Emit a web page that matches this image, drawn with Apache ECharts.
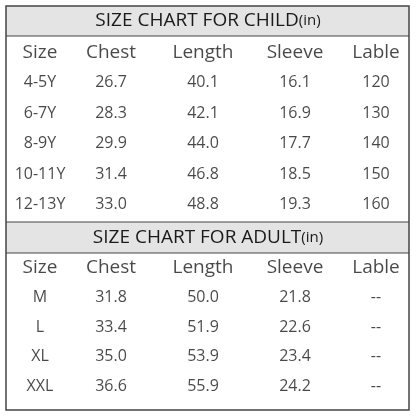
<!DOCTYPE html>
<html><head><meta charset="utf-8">
<script src="https://cdn.jsdelivr.net/npm/echarts@6/dist/echarts.min.js"></script>
<style>html,body{margin:0;padding:0;background:#fff}#c{width:416px;height:416px}</style>
</head><body><div id="c"></div>
<script>
const columns = ['Size','Chest','Length','Sleeve','Lable'];
const childTitle = 'SIZE CHART FOR CHILD';
const adultTitle = 'SIZE CHART FOR ADULT';
const childSizes = ['4-5Y','6-7Y','8-9Y','10-11Y','12-13Y'];
const childChest = ['26.7','28.3','29.9','31.4','33.0'];
const childLength = ['40.1','42.1','44.0','46.8','48.8'];
const childSleeve = ['16.1','16.9','17.7','18.5','19.3'];
const childLable = ['120','130','140','150','160'];
const adultSizes = ['M','L','XL','XXL'];
const adultChest = ['31.8','33.4','35.0','36.6'];
const adultLength = ['50.0','51.9','53.9','55.9'];
const adultSleeve = ['21.8','22.6','23.4','24.2'];
const adultLable = ['--','--','--','--'];

const colX = [40,111,203,295,376]; // layout only
const FONT = '"Open Sans", sans-serif';

function cells(sizes, cols, gridIndex){
  const rows = ['h'].concat(sizes);
  const data = [];
  columns.forEach((c,i)=>data.push({value:[colX[i],'h'],name:c,label:{fontSize:19}}));
  sizes.forEach((s,r)=>{
    cols.forEach((arr,i)=>data.push({value:[colX[i],s],name:arr[r]}));
  });
  return {rows, series:{type:'scatter',xAxisIndex:gridIndex,yAxisIndex:gridIndex,symbolSize:0,silent:true,
    data, label:{show:true,position:'inside',formatter:p=>p.name,color:'#1a1a1a',fontFamily:FONT,fontSize:16}}};
}
const a = cells(childSizes,[childSizes,childChest,childLength,childSleeve,childLable],0);
const b = cells(adultSizes,[adultSizes,adultChest,adultLength,adultSleeve,adultLable],1);

const chart = echarts.init(document.getElementById('c'),null,{renderer:'canvas'});
const xa = i=>({type:'value',gridIndex:i,min:6,max:409,show:false});
const ya = (i,rows)=>({type:'category',gridIndex:i,data:rows,inverse:true,show:false});
const rich = {a:{fontFamily:FONT,fontSize:19,fill:'#1a1a1a'},b:{fontFamily:FONT,fontSize:15,fill:'#1a1a1a'}};
chart.setOption({
  animation:false,
  grid:[{left:6,right:7,top:37,height:183},{left:6,right:7,top:253,height:148}],
  xAxis:[xa(0),xa(1)],
  yAxis:[ya(0,a.rows),ya(1,b.rows)],
  series:[a.series,b.series],
  graphic:[
    {type:'rect',shape:{x:6,y:6,width:403,height:30},style:{fill:'#e4e4e4'},z:1},
    {type:'rect',shape:{x:6,y:222,width:403,height:31},style:{fill:'#e4e4e4'},z:1},
    {type:'line',shape:{x1:6,y1:36,x2:409,y2:36},style:{stroke:'#444',lineWidth:1.2},z:2},
    {type:'line',shape:{x1:6,y1:222,x2:409,y2:222},style:{stroke:'#444',lineWidth:1.2},z:2},
    {type:'line',shape:{x1:6,y1:253,x2:409,y2:253},style:{stroke:'#444',lineWidth:1.2},z:2},
    {type:'rect',shape:{x:6,y:6,width:403,height:404},style:{fill:null,stroke:'#444',lineWidth:1.5},z:3},
    {type:'text',x:208,y:21,style:{text:'{a|'+childTitle+'}{b|(in)}',align:'center',verticalAlign:'middle',rich},z:5},
    {type:'text',x:208,y:238,style:{text:'{a|'+adultTitle+'}{b|(in)}',align:'center',verticalAlign:'middle',rich},z:5}
  ]
});
</script></body></html>
